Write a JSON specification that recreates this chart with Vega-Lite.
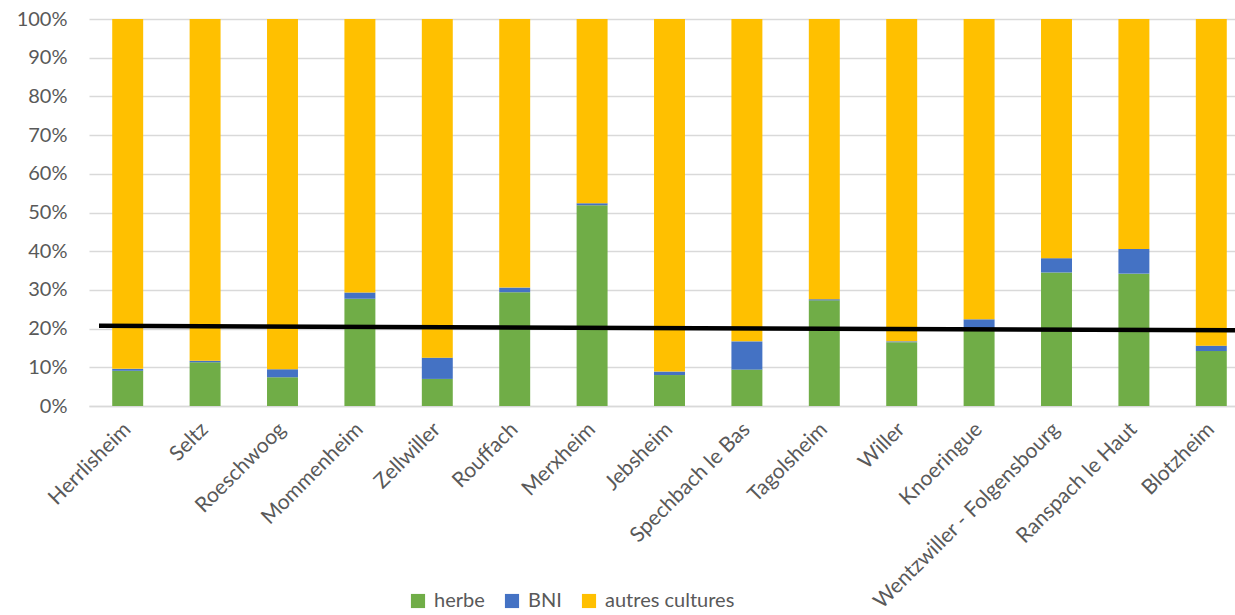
{
  "$schema": "https://vega.github.io/schema/vega-lite/v6.json",
  "width": 1146,
  "height": 387,
  "autosize": "none",
  "padding": {"left": 89, "top": 19, "right": 0, "bottom": 209},
  "background": "white",
  "config": {
    "view": {"stroke": null},
    "font": "Lato",
    "axis": {"labelFont": "Lato", "labelColor": "#595959", "labelFontSize": 20}
  },
  "datasets": {
    "tendance": [
      {"t": 0, "part": 0.2072},
      {"t": 1, "part": 0.1955}
    ]
  },
  "data": {
    "values": [
      {"commune": "Herrlisheim", "type": "herbe", "ordre": 1, "part": 0.091},
      {"commune": "Herrlisheim", "type": "BNI", "ordre": 2, "part": 0.005},
      {"commune": "Herrlisheim", "type": "autres cultures", "ordre": 3, "part": 0.904},
      {"commune": "Seltz", "type": "herbe", "ordre": 1, "part": 0.113},
      {"commune": "Seltz", "type": "BNI", "ordre": 2, "part": 0.004},
      {"commune": "Seltz", "type": "autres cultures", "ordre": 3, "part": 0.883},
      {"commune": "Roeschwoog", "type": "herbe", "ordre": 1, "part": 0.074},
      {"commune": "Roeschwoog", "type": "BNI", "ordre": 2, "part": 0.021},
      {"commune": "Roeschwoog", "type": "autres cultures", "ordre": 3, "part": 0.905},
      {"commune": "Mommenheim", "type": "herbe", "ordre": 1, "part": 0.277},
      {"commune": "Mommenheim", "type": "BNI", "ordre": 2, "part": 0.016},
      {"commune": "Mommenheim", "type": "autres cultures", "ordre": 3, "part": 0.707},
      {"commune": "Zellwiller", "type": "herbe", "ordre": 1, "part": 0.070},
      {"commune": "Zellwiller", "type": "BNI", "ordre": 2, "part": 0.055},
      {"commune": "Zellwiller", "type": "autres cultures", "ordre": 3, "part": 0.875},
      {"commune": "Rouffach", "type": "herbe", "ordre": 1, "part": 0.294},
      {"commune": "Rouffach", "type": "BNI", "ordre": 2, "part": 0.012},
      {"commune": "Rouffach", "type": "autres cultures", "ordre": 3, "part": 0.694},
      {"commune": "Merxheim", "type": "herbe", "ordre": 1, "part": 0.519},
      {"commune": "Merxheim", "type": "BNI", "ordre": 2, "part": 0.005},
      {"commune": "Merxheim", "type": "autres cultures", "ordre": 3, "part": 0.476},
      {"commune": "Jebsheim", "type": "herbe", "ordre": 1, "part": 0.080},
      {"commune": "Jebsheim", "type": "BNI", "ordre": 2, "part": 0.009},
      {"commune": "Jebsheim", "type": "autres cultures", "ordre": 3, "part": 0.911},
      {"commune": "Spechbach le Bas", "type": "herbe", "ordre": 1, "part": 0.094},
      {"commune": "Spechbach le Bas", "type": "BNI", "ordre": 2, "part": 0.073},
      {"commune": "Spechbach le Bas", "type": "autres cultures", "ordre": 3, "part": 0.833},
      {"commune": "Tagolsheim", "type": "herbe", "ordre": 1, "part": 0.273},
      {"commune": "Tagolsheim", "type": "BNI", "ordre": 2, "part": 0.003},
      {"commune": "Tagolsheim", "type": "autres cultures", "ordre": 3, "part": 0.724},
      {"commune": "Willer", "type": "herbe", "ordre": 1, "part": 0.165},
      {"commune": "Willer", "type": "BNI", "ordre": 2, "part": 0.002},
      {"commune": "Willer", "type": "autres cultures", "ordre": 3, "part": 0.833},
      {"commune": "Knoeringue", "type": "herbe", "ordre": 1, "part": 0.196},
      {"commune": "Knoeringue", "type": "BNI", "ordre": 2, "part": 0.028},
      {"commune": "Knoeringue", "type": "autres cultures", "ordre": 3, "part": 0.776},
      {"commune": "Wentzwiller - Folgensbourg", "type": "herbe", "ordre": 1, "part": 0.345},
      {"commune": "Wentzwiller - Folgensbourg", "type": "BNI", "ordre": 2, "part": 0.037},
      {"commune": "Wentzwiller - Folgensbourg", "type": "autres cultures", "ordre": 3, "part": 0.618},
      {"commune": "Ranspach le Haut", "type": "herbe", "ordre": 1, "part": 0.342},
      {"commune": "Ranspach le Haut", "type": "BNI", "ordre": 2, "part": 0.064},
      {"commune": "Ranspach le Haut", "type": "autres cultures", "ordre": 3, "part": 0.594},
      {"commune": "Blotzheim", "type": "herbe", "ordre": 1, "part": 0.142},
      {"commune": "Blotzheim", "type": "BNI", "ordre": 2, "part": 0.014},
      {"commune": "Blotzheim", "type": "autres cultures", "ordre": 3, "part": 0.844}
    ]
  },
  "layer": [
    {
      "mark": {"type": "bar"},
      "encoding": {
        "x": {
          "field": "commune",
          "type": "nominal",
          "sort": null,
          "scale": {"paddingInner": 0.6, "paddingOuter": 0.3, "range": [0, 1161]},
          "axis": {
            "title": null,
            "labelAngle": -45,
            "labelAlign": "right",
            "labelBaseline": "middle",
            "labelPadding": 20,
            "labelLimit": 0,
            "labelFontSize": 21,
            "labelOverlap": false,
            "ticks": false,
            "domain": true,
            "domainColor": "#d9d9d9",
            "domainWidth": 1.3,
            "grid": false
          }
        },
        "y": {
          "field": "part",
          "type": "quantitative",
          "stack": "zero",
          "scale": {"domain": [0, 1]},
          "axis": {
            "title": null,
            "values": [0, 0.1, 0.2, 0.3, 0.4, 0.5, 0.6, 0.7, 0.8, 0.9, 1],
            "tickCount": 11,
            "format": ".0%",
            "labelOverlap": false,
            "domain": false,
            "ticks": false,
            "labelPadding": 22,
            "grid": true,
            "gridColor": "#d9d9d9",
            "gridWidth": 1.3
          }
        },
        "color": {
          "field": "type",
          "type": "nominal",
          "sort": ["herbe", "BNI", "autres cultures"],
          "scale": {"domain": ["herbe", "BNI", "autres cultures"], "range": ["#70AD47", "#4472C4", "#FFC000"]},
          "legend": {
            "title": null,
            "orient": "none",
            "direction": "horizontal",
            "legendX": 319,
            "legendY": 572,
            "symbolType": "square",
            "symbolSize": 200,
            "symbolStrokeWidth": 0,
            "labelFont": "Lato",
            "labelFontSize": 20,
            "labelColor": "#595959",
            "labelOffset": 6,
            "columnPadding": 17
          }
        },
        "order": {"field": "ordre", "type": "quantitative"}
      }
    },
    {
      "data": {"name": "tendance"},
      "mark": {"type": "line", "color": "black", "strokeWidth": 4.5},
      "encoding": {
        "x": {"field": "t", "type": "quantitative", "scale": {"domain": [0, 1], "range": [10, 1146]}, "axis": null},
        "y": {
          "field": "part",
          "type": "quantitative",
          "axis": {
            "title": null,
            "values": [0, 0.1, 0.2, 0.3, 0.4, 0.5, 0.6, 0.7, 0.8, 0.9, 1],
            "tickCount": 11,
            "format": ".0%",
            "labelOverlap": false,
            "domain": false,
            "ticks": false,
            "labelPadding": 22,
            "grid": true,
            "gridColor": "#d9d9d9",
            "gridWidth": 1.3
          }
        }
      }
    }
  ],
  "resolve": {"scale": {"x": "independent"}}
}
